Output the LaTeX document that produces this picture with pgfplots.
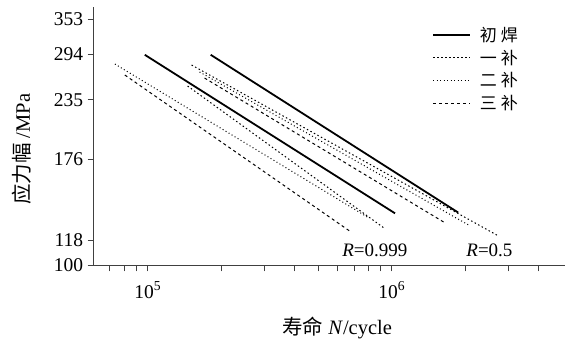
\documentclass[border=0pt]{standalone}
\usepackage{fontspec}
\setmainfont{Liberation Serif}
\newfontfamily\cjk{Noto Sans CJK SC}
\usepackage{pgfplots}
\pgfplotsset{compat=1.18}
\begin{document}
\begin{tikzpicture}
\useasboundingbox (-93.6pt,-75.7pt) rectangle (478.4pt,265.3pt);
\begin{axis}[
  at={(0pt,0pt)}, anchor=south west,
  width=471pt, height=258pt, scale only axis,
  xmode=log, ymode=log,
  xmin=6e4, xmax=5.1e6, ymin=100, ymax=375,
  axis lines=left,
  axis line style={-, draw=black!75, line width=0.9pt},
  every tick/.style={draw=black!75, line width=0.9pt},
  tick align=outside,
  major tick length=6pt, minor tick length=6pt,
  xtick={1e5,1e6},
  xticklabels={10\textsuperscript{5},10\textsuperscript{6}},
  minor xtick={7e4,8e4,9e4,2e5,3e5,4e5,5e5,6e5,7e5,8e5,9e5,2e6,3e6,4e6},
  ytick={100,113.8,172.3,233.5,294.6,353},
  yticklabels={100,118,176,235,294,353},
  yminorticks=false,
  tick label style={font=\fontsize{19.5}{19.5}\selectfont},
  xticklabel style={yshift=-7pt},
  yticklabel style={xshift=-1pt},
  xlabel={{\cjk 寿命}\ \textit{N}/cycle},
  ylabel={{\cjk 应力幅} /MPa},
  label style={font=\fontsize{20.5}{20.5}\selectfont},
  xlabel style={at={(axis description cs:0.517,-0.243)}, anchor=center},
  ylabel style={at={(axis description cs:-0.152,0.45)}, anchor=center},
  clip=false,
  legend style={at={(axis description cs:0.712,0.94)}, anchor=north west,
    draw=none, fill=none, font=\cjk\fontsize{17}{17}\selectfont,
    row sep=3pt, cells={anchor=west}},
  legend image code/.code={\draw[#1] (0pt,0pt) -- (37pt,0pt); \path (44pt,0pt);},
]
% original weld (solid)
\addplot[black, line width=1.8pt] coordinates {(9.72e4,294) (1.03e6,130.5)};
\addlegendentry{初 焊}
\addplot[black, line width=1.8pt, forget plot] coordinates {(1.81e5,294) (1.87e6,131)};
% first repair
\addplot[black, line width=1pt, dash pattern=on 1.5pt off 2.5pt] coordinates {(1.456e5,250.5) (9.275e5,121.1)};
\addlegendentry{一 补}
\addplot[black, line width=1pt, dash pattern=on 1.5pt off 2.5pt, forget plot] coordinates {(1.512e5,279.0) (2.733e6,116.2)};
% second repair
\addplot[black, line width=1pt, dash pattern=on 1pt off 2.5pt] coordinates {(7.334e4,280.4) (8.056e5,127.4)};
\addlegendentry{二 补}
\addplot[black, line width=1pt, dash pattern=on 1pt off 2.5pt, forget plot] coordinates {(1.630e5,269.2) (2.062e6,122.9)};
% third repair
\addplot[black, line width=1pt, dash pattern=on 3pt off 3pt] coordinates {(8.056e4,265.0) (6.802e5,118.6)};
\addlegendentry{三 补}
\addplot[black, line width=1pt, dash pattern=on 3pt off 3pt, forget plot] coordinates {(1.708e5,261.0) (1.630e6,124.8)};
\node[font=\fontsize{19}{19}\selectfont] at (axis cs:8.52e5,108.2) {\textit{R}=0.999};
\node[font=\fontsize{19}{19}\selectfont] at (axis cs:2.51e6,108.2) {\textit{R}=0.5};
\end{axis}
\end{tikzpicture}
\end{document}
